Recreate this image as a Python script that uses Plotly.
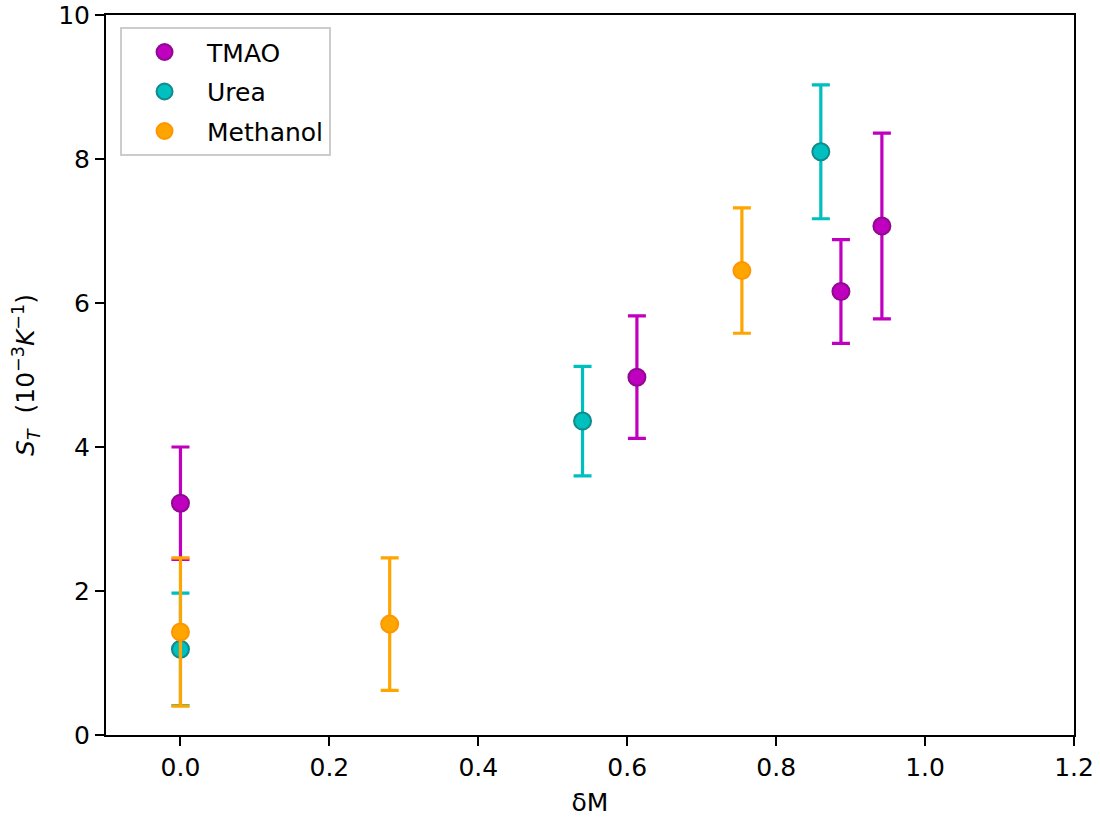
import plotly.graph_objects as go

# Data
tmao_x = [0.0, 0.613, 0.887, 0.942]
tmao_y = [3.22, 4.97, 6.16, 7.07]
tmao_err = [0.78, 0.85, 0.72, 1.29]

urea_x = [0.0, 0.540, 0.860]
urea_y = [1.19, 4.36, 8.10]
urea_err = [0.78, 0.76, 0.93]

meth_x = [0.0, 0.281, 0.754]
meth_y = [1.43, 1.54, 6.45]
meth_err = [1.03, 0.92, 0.87]

x_ticks = [0.0, 0.2, 0.4, 0.6, 0.8, 1.0, 1.2]
y_ticks = [0, 2, 4, 6, 8, 10]

series = [
    ("TMAO", tmao_x, tmao_y, tmao_err, "#bf00bf", "#8f0a8f"),
    ("Urea", urea_x, urea_y, urea_err, "#00bfbf", "#108a8a"),
    ("Methanol", meth_x, meth_y, meth_err, "#ffa500", "#ff9500"),
]

fig = go.Figure()
for name, xs, ys, es, col, edge in series:
    fig.add_trace(go.Scatter(
        x=xs, y=ys, mode="markers", name=name, legendgroup=name,
        error_y=dict(type="data", array=es, visible=True, color=col,
                     thickness=3.2, width=9),
        marker=dict(size=17, color=col, line=dict(color=edge, width=2)),
    ))

FONT = "DejaVu Sans"
fig.update_layout(
    width=1100, height=819,
    margin=dict(l=106, r=26, t=15, b=84, autoexpand=False),
    paper_bgcolor="white", plot_bgcolor="white",
    font=dict(family=FONT, size=25, color="black"),
    showlegend=True,
    legend=dict(x=0.0145, y=0.983, xanchor="left", yanchor="top",
                bgcolor="rgba(255,255,255,0.8)", bordercolor="#cccccc",
                borderwidth=2, font=dict(family=FONT, size=25),
                itemwidth=75, traceorder="grouped", tracegroupgap=4),
    xaxis=dict(range=[-0.1, 1.2], tickvals=x_ticks,
               ticktext=[f"{v:.1f}" for v in x_ticks],
               showgrid=False, zeroline=False, showline=True, mirror=True,
               linecolor="black", linewidth=2, ticks="outside",
               ticklen=9, tickwidth=2, tickcolor="black", automargin=False,
               title=dict(text="δM", font=dict(size=25), standoff=12)),
    yaxis=dict(range=[0, 10], tickvals=y_ticks,
               showgrid=False, zeroline=False, showline=True, mirror=True,
               linecolor="black", linewidth=2, ticks="outside",
               ticklen=9, tickwidth=2, tickcolor="black", automargin=False,
               title=dict(text="<i>S</i><sub><i>T</i></sub>  (10<sup>−3</sup><i>K</i><sup>−1</sup>)",
                          font=dict(size=25), standoff=16)),
)

fig.write_html("out.html", config={"displayModeBar": False},
               post_script="document.body.style.margin='0';")
